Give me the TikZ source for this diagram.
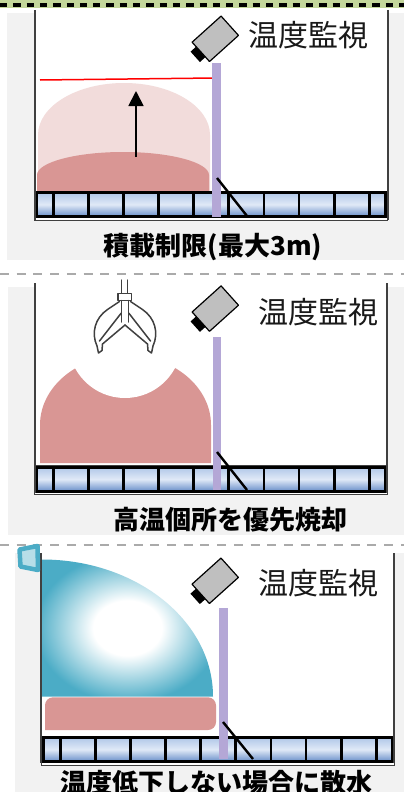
\documentclass[tikz,border=0pt]{standalone}
\usepackage{fontspec}
\newfontfamily\jp{Noto Sans CJK JP}
\usetikzlibrary{arrows.meta}

\definecolor{bandgreen}{RGB}{195,214,155}
\definecolor{panelgray}{RGB}{242,242,242}
\definecolor{wallgray}{RGB}{64,64,64}
\definecolor{sepgray}{RGB}{170,170,170}
\definecolor{polepurple}{RGB}{180,167,214}
\definecolor{heappink}{RGB}{217,150,148}
\definecolor{limitpink}{RGB}{242,220,219}
\definecolor{camgray}{RGB}{191,191,191}
\definecolor{cellhi}{RGB}{176,199,232}
\definecolor{cellmid}{RGB}{224,233,247}
\definecolor{celllo}{RGB}{104,142,200}
\definecolor{spraycol}{RGB}{75,172,198}
\definecolor{nozzlefill}{RGB}{183,222,232}

\pgfdeclareradialshading{spray}{\pgfpoint{0bp}{0bp}}{color(0bp)=(white); color(10bp)=(white); color(27bp)=(spraycol); color(50bp)=(spraycol)}

\tikzset{
  wall/.style={draw=wallgray, line width=2pt},
  pole/.style={fill=polepurple},
  chute/.style={draw=black, line width=2.4pt},
  camlabel/.style={font=\jp\fontsize{30}{34}\selectfont, inner sep=0pt, text=black!90},
  caption/.style={font=\jp\bfseries\fontsize{26}{30}\selectfont, inner sep=0pt},
  claw/.style={draw=wallgray, line width=1.5pt, line join=round, line cap=round},
  % grate row at the floor of a bunker, origin at its top-left corner
  grate/.pic={
    \draw[line width=0.8pt, draw=wallgray, fill=white] (0,0) rectangle (353,29);
    \foreach \a/\b in {2/18.8,18.8/53.9,53.9/89,89/124.1,124.1/159.2,159.2/194.3,
                       194.3/229.4,229.4/264.5,264.5/299.6,299.6/334.7,334.7/351}
      \shade[top color=cellhi, bottom color=celllo, middle color=cellmid] (\a,1.5) rectangle (\b,25.5);
    \draw[line width=2.8pt] (2,1.5) rectangle (351,25.5);
    \foreach \d in {18.8,53.9,89,124.1,159.2,194.3,229.4,264.5,299.6,334.7}
      \draw[line width=2.8pt] (\d,1.5) -- (\d,27);
  },
  % tilted monitoring camera, origin at the body centre
  camera/.pic={
    \begin{scope}[rotate=42]
      \fill[black] (-27,-7) rectangle (-19.5,7);
      \draw[line width=1.2pt, fill=camgray, line join=round] (-19.5,-13) rectangle (19.5,13);
    \end{scope}
  }
}

\begin{document}
\begin{tikzpicture}[x=1pt, y=-1pt]
\useasboundingbox (0,0) rectangle (404,792);

% ---------- top band ----------
\fill[bandgreen] (0,0) rectangle (404,8);
\draw[black, line width=3.5pt, dash pattern=on 7.3pt off 6pt] (0,5) -- (404,5);

% ---------- panel 1: stacking limit ----------
\fill[panelgray] (7,13) rectangle (404,260);
\fill[white] (34.5,10) rectangle (387.5,220);
\fill[limitpink] (38,192) -- (38,135) .. controls (38,106.3) and (76.5,83) .. (124,83)
  .. controls (171.5,83) and (210,106.3) .. (210,135) -- (210,192) -- cycle;
\fill[heappink] (37,192) -- (37,175) .. controls (37,162.3) and (76,152) .. (123,152)
  .. controls (170,152) and (209,162.3) .. (209,175) -- (209,192) -- cycle;
\coordinate (lim0) at (40,80);
\coordinate (lim1) at (215,78);
\draw[red, line width=1.5pt] (lim0) -- (lim1);
\coordinate (rise0) at (136,157);
\coordinate (rise1) at (136,91);
\draw[line width=1.8pt, -{Triangle[width=15pt,length=15pt]}] (rise0) -- (rise1);
\pic at (34.5,191) {grate};
\fill[pole] (212,63) rectangle (221,217);
\coordinate (gate1a) at (217,178);
\coordinate (gate1b) at (247,216);
\draw[chute] (gate1a) -- (gate1b);
\draw[wall] (34.5,10) -- (34.5,220);
\draw[wall] (387.5,10) -- (387.5,220);
\pic at (215.3,38.8) {camera};
\node[camlabel] (tag1) at (308.5,35) {温度監視};
\node[caption] (cap1) at (213,247) {積載制限(最大3m)};

\draw[sepgray, line width=1.8pt, dash pattern=on 9pt off 7.7pt] (0,274) -- (404,274);

% ---------- panel 2: hot spots burned first ----------
\fill[panelgray] (8,287) rectangle (404,535);
\fill[white] (35,283) rectangle (387,493);
\fill[heappink] (40,463) -- (40,425) .. controls (40,386.4) and (78.3,355) .. (125.5,355)
  .. controls (172.7,355) and (211,386.4) .. (211,425) -- (211,463) -- cycle;
\fill[white] (125,341.3) circle[radius=56.7];
% grab bucket
\draw[claw] (121.5,280) -- (121.5,293.5) (127.5,280) -- (127.5,293.5);
\draw[claw, fill=white] (118,293.5) rectangle (131.5,300.5);
\draw[claw] (121.5,300.5) -- (121.5,322) (128.5,300.5) -- (128.5,322);
\draw[claw] (119.5,301.5) -- (107.5,309.5) .. controls (95,318) and (91,333) .. (97,346)
  -- (98.5,353) -- (102,350.5) -- (102.5,344) -- (125,325);
\draw[claw] (121.3,313) -- (99.5,341);
\draw[claw] (130.5,301.5) -- (142.5,309.5) .. controls (155,318) and (159,333) .. (153,346)
  -- (151.5,353) -- (148,350.5) -- (147.5,344) -- (125,325);
\draw[claw] (128.7,313) -- (150.5,341);
\pic at (34.5,465.8) {grate};
\fill[pole] (213,337) rectangle (221,490);
\coordinate (gate2a) at (217,452);
\coordinate (gate2b) at (247,490);
\draw[chute] (gate2a) -- (gate2b);
\draw[wall] (35,283) -- (35,493);
\draw[wall] (387,283) -- (387,493);
\pic at (215.3,308.6) {camera};
\node[camlabel] (tag2) at (318.5,311.7) {温度監視};
\node[caption] (cap2) at (230,520) {高温個所を優先焼却};

\draw[sepgray, line width=1.8pt, dash pattern=on 9pt off 7.7pt] (0,545) -- (404,545);

% ---------- panel 3: water spray ----------
\fill[panelgray] (15,553) rectangle (404,792);
\fill[white] (41,553) rectangle (393.5,763);
\shade[shading=spray] (42,696.5) -- (42,559.5) .. controls (136.4,559.5) and (213,620.9) .. (213,696.5) -- cycle;
\fill[heappink, rounded corners=8pt] (45,730) -- (45,697.3) -- (216,697.3) -- (216,730) [sharp corners] -- cycle;
\pic at (41.5,736) {grate};
\fill[pole] (219,608) rectangle (228,759);
\coordinate (gate3a) at (223,722);
\coordinate (gate3b) at (253,759);
\draw[chute] (gate3a) -- (gate3b);
\draw[wall] (41,553) -- (41,763);
\draw[wall] (393.5,553) -- (393.5,763);
\draw[draw=spraycol, fill=nozzlefill, line width=4.5pt, line join=round]
  (19.5,549.5) -- (37.5,546) -- (38,570) -- (20.5,566.5) -- cycle;
\pic at (215.2,580.8) {camera};
\node[camlabel] (tag3) at (318.5,583.3) {温度監視};
\node[caption] (cap3) at (216.5,782.5) {温度低下しない場合に散水};
\end{tikzpicture}
\end{document}
